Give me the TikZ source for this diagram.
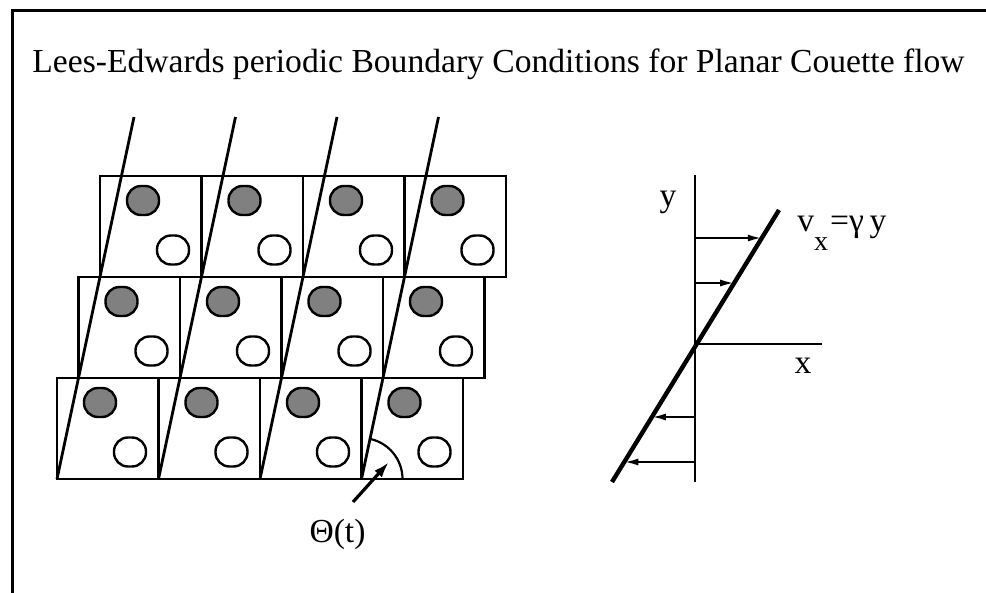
\documentclass[tikz,border=0pt]{standalone}
\usepackage{fontspec}
\setmainfont{Liberation Serif}
\usetikzlibrary{arrows.meta,calc}
\tikzset{
  pcell/.style={draw,line width=1.3pt,minimum width=50.75pt,minimum height=50.5pt,inner sep=0pt,outer sep=0pt,anchor=north west},
  pfull/.style={draw,fill=gray,line width=1.2pt,rounded corners=7pt,minimum width=16pt,minimum height=14.5pt,inner sep=0pt},
  pempty/.style={pfull,fill=white},
  pslant/.style={line width=1.4pt},
  parr/.style={-{Latex[length=7pt,width=3.5pt]},line width=1.1pt},
  plabel/.style={font=\fontsize{16.8}{20}\selectfont,inner sep=0pt}
}
\begin{document}
\begin{tikzpicture}[x=0.5pt,y=0.5pt]
  \useasboundingbox (0,0) rectangle (986,-593);
  % frame
  \draw[line width=1.5pt] (12,-593) -- (12,-10.5) -- (986,-10.5);
  \node[plabel,anchor=base] (title) at (498.5,-73) {Lees-Edwards periodic Boundary Conditions for Planar Couette flow};
  % periodic images, each row shifted by the strain
  \foreach \r in {0,1,2}
    \foreach \c in {0,...,3}{
      \pgfmathsetmacro{\cx}{100-21.5*\r+101.5*\c}
      \pgfmathsetmacro{\cy}{-176-101*\r}
      \node[pcell] (c\r\c) at (\cx,\cy) {};
      \node[pfull] (d\r\c) at (\cx+43,\cy-24.5) {};
      \node[pempty] (w\r\c) at (\cx+73,\cy-74) {};
    }
  \foreach \c in {0,...,3}
    \draw[pslant] (c2\c.south west) -- ++(77,362);
  % shear angle
  \draw[line width=1.1pt] ($(c23.south west)+(41,0)$) arc[start angle=0,end angle=78,radius=41];
  \node[plabel,anchor=base] (theta) at (337.5,-542) {Θ(t)};
  \coordinate (tail) at (353,-502);
  \coordinate (tip) at (389,-462);
  \draw[-{Latex[length=8pt,width=5pt]},line width=1.6pt] (tail) -- (tip);
  % velocity profile
  \coordinate (O) at (695,-344);
  \coordinate (ytop) at (695,-175);
  \coordinate (ybot) at (695,-482);
  \coordinate (xend) at (822,-344);
  \coordinate (slo) at (612,-482);
  \coordinate (shi) at (779,-210);
  \draw[line width=1.2pt] (ybot) -- (ytop);
  \draw[line width=1.2pt] (O) -- (xend);
  \draw[line width=2.2pt] (slo) -- (shi);
  \foreach \t in {0.897,0.7316,0.239,0.0735}{
    \coordinate (p) at ($(slo)!\t!(shi)$);
    \draw[parr] (O |- p) -- (p);
  }
  \node[plabel,anchor=base] (ylab) at (668,-207) {y};
  \node[plabel,anchor=base] (xlab) at (803,-373) {x};
  \node[plabel,anchor=base west] (vlab) at (797,-232) {v\raisebox{-0.55em}{\fontsize{14}{14}\selectfont x}\kern1pt=γ\,y};
\end{tikzpicture}
\end{document}
